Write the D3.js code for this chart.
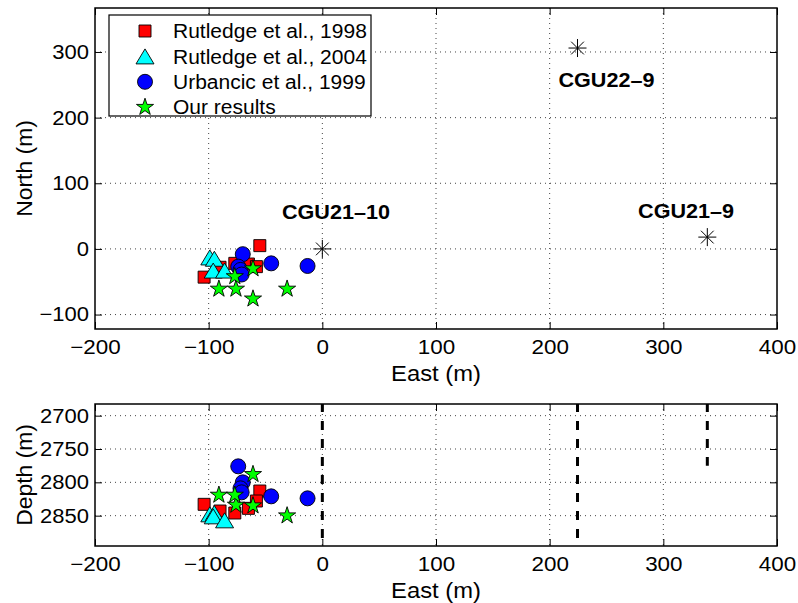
<!DOCTYPE html>
<html>
<head>
<meta charset="utf-8">
<script src="https://cdn.jsdelivr.net/npm/d3@7"></script>
<style>
  html, body { margin: 0; padding: 0; background: #fff; }
  svg { display: block; font-family: "Liberation Sans", Arial, Helvetica, sans-serif; }
</style>
</head>
<body>
<svg id="chart" width="798" height="603"></svg>
<script>
// ---- Event locations (East, North, Depth in metres) ----
const rut1998East  = [-55, -104, -77, -65, -58, -90];
const rut1998North = [5, -43, -22, -23, -27, -28];
const rut1998Depth = [2813, 2833, 2846, 2839, 2828, 2843];

const rut2004East  = [-99, -95, -96, -86];
const rut2004North = [-13, -15, -33, -33];
const rut2004Depth = [2848, 2846, 2851, 2857];

const urbEast  = [-70, -45, -13, -74, -72, -71];
const urbNorth = [-8, -22, -26, -27, -32, -39];
const urbDepth = [2800, 2821, 2824, 2776, 2809, 2815];

const oursEast  = [-91, -76, -61, -31, -61, -77];
const oursNorth = [-61, -61, -76, -61, -30, -42];
const oursDepth = [2819, 2834, 2835, 2850, 2788, 2819];

// ---- Wells ----
const wellNames     = ["CGU21–10", "CGU22–9", "CGU21–9"];
const wellEast      = [0, 224.5, 338.7];
const wellNorth     = [0, 306, 18];
const wellTopDepth  = [2600, 2600, 2600];
const wellBotDepth  = [3000, 3000, 2775];
const wellLabelEast  = [12, 250, 320];
const wellLabelNorth = [57, 257, 58];

// ---- Axes ----
const eastDomain  = [-200, 400];
const northDomain = [-122, 367];
const depthDomain = [2682.5, 2895.5];
const eastTicks  = [-200, -100, 0, 100, 200, 300, 400];
const northTicks = [-100, 0, 100, 200, 300];
const depthTicks = [2700, 2750, 2800, 2850];

const seriesNames = ["Rutledge et al., 1998", "Rutledge et al., 2004", "Urbancic et al., 1999", "Our results"];

const svg = d3.select("#chart");
svg.append("rect").attr("width", 798).attr("height", 603).attr("fill", "#fff");

const mapBox = { l: 95, r: 777, t: 8, b: 329 };
const secBox = { l: 95, r: 777, t: 404, b: 546 };

const xMap = d3.scaleLinear().domain(eastDomain).range([mapBox.l, mapBox.r]);
const yMap = d3.scaleLinear().domain(northDomain).range([mapBox.b, mapBox.t]);
const xSec = d3.scaleLinear().domain(eastDomain).range([secBox.l, secBox.r]);
const ySec = d3.scaleLinear().domain(depthDomain).range([secBox.t, secBox.b]);

const fmt = d3.format("d");
const minusFmt = v => fmt(v).replace("-", "\u2212");

// widen glyphs horizontally (the figure's lettering is a little broad)
function widen(sel, k) {
  sel.each(function () {
    const len = this.getComputedTextLength();
    if (len > 0) {
      this.setAttribute("textLength", (len * k).toFixed(2));
      this.setAttribute("lengthAdjust", "spacingAndGlyphs");
    }
  });
}

// marker path builders
function starPath(R) {
  const r = R * 0.382;
  const pts = [];
  for (let i = 0; i < 10; i++) {
    const a = -Math.PI / 2 + i * Math.PI / 5;
    const rr = i % 2 === 0 ? R : r;
    pts.push([rr * Math.cos(a), rr * Math.sin(a)]);
  }
  return "M" + pts.map(p => p[0].toFixed(2) + "," + p[1].toFixed(2)).join("L") + "Z";
}
function triPath(w, h) {
  return `M0,${-h / 2}L${w / 2},${h / 2}L${-w / 2},${h / 2}Z`;
}
function squarePath(s) {
  return `M${-s / 2},${-s / 2}h${s}v${s}h${-s}Z`;
}
function circlePath(r) {
  return `M${r},0A${r},${r} 0 1,1 ${-r},0A${r},${r} 0 1,1 ${r},0Z`;
}
function asteriskPath(R) {
  const d = R * Math.SQRT1_2;
  return `M0,${-R}V${R}M${-R},0H${R}M${-d},${-d}L${d},${d}M${-d},${d}L${d},${-d}`;
}

const markers = [
  { path: squarePath(12), fill: "#ff0000" },
  { path: triPath(18, 15), fill: "#00ffff" },
  { path: circlePath(7.5), fill: "#0000ff" },
  { path: starPath(9), fill: "#00ff00" }
];

function grid(g, x, y, box, xTicks, yTicks) {
  g.append("g").selectAll("line").data(xTicks.filter(t => x(t) > box.l + 1 && x(t) < box.r - 1)).join("line")
    .attr("x1", d => x(d)).attr("x2", d => x(d)).attr("y1", box.t).attr("y2", box.b)
    .attr("stroke", "#444").attr("stroke-width", 1).attr("stroke-dasharray", "1,4");
  g.append("g").selectAll("line").data(yTicks).join("line")
    .attr("x1", box.l).attr("x2", box.r).attr("y1", d => y(d)).attr("y2", d => y(d))
    .attr("stroke", "#444").attr("stroke-width", 1).attr("stroke-dasharray", "1,4");
}

function axes(g, x, y, box, xTicks, yTicks, xLabel, yLabel) {
  const tick = 7;
  const bottom = g.append("g").attr("transform", `translate(0,${box.b})`)
    .call(d3.axisBottom(x).tickValues(xTicks).tickSize(-tick).tickPadding(11).tickFormat(minusFmt));
  const topAx = g.append("g").attr("transform", `translate(0,${box.t})`)
    .call(d3.axisTop(x).tickValues(xTicks).tickSize(-tick).tickFormat(""));
  const left = g.append("g").attr("transform", `translate(${box.l},0)`)
    .call(d3.axisLeft(y).tickValues(yTicks).tickSize(-tick).tickPadding(6).tickFormat(minusFmt));
  const right = g.append("g").attr("transform", `translate(${box.r},0)`)
    .call(d3.axisRight(y).tickValues(yTicks).tickSize(-tick).tickFormat(""));
  [bottom, topAx, left, right].forEach(a => {
    a.select(".domain").remove();
    a.selectAll(".tick line").attr("stroke", "#000").attr("stroke-width", 1);
    a.selectAll("text").attr("fill", "#000").style("font-size", "20px")
      .style("font-family", "'Liberation Sans', Arial, sans-serif");
  });
  widen(bottom.selectAll("text"), 1.12);
  widen(left.selectAll("text"), 1.1);
  g.append("rect").attr("x", box.l).attr("y", box.t)
    .attr("width", box.r - box.l).attr("height", box.b - box.t)
    .attr("fill", "none").attr("stroke", "#000").attr("stroke-width", 1.5);
  const xl = g.append("text").attr("x", (box.l + box.r) / 2).attr("y", box.b + 52)
    .attr("text-anchor", "middle").style("font-size", "22px").text(xLabel);
  const yl = g.append("text").attr("transform", `translate(32,${(box.t + box.b) / 2}) rotate(-90)`)
    .attr("text-anchor", "middle").style("font-size", "22px").text(yLabel);
  widen(xl, 1.08);
  widen(yl, 1.04);
}

function scatter(g, x, y, xs, ys, m) {
  g.append("g").selectAll("path").data(xs.map((v, i) => [v, ys[i]])).join("path")
    .attr("transform", d => `translate(${x(d[0])},${y(d[1])})`)
    .attr("d", m.path).attr("fill", m.fill).attr("stroke", "#000").attr("stroke-width", 0.9);
}

// ---------- Map view ----------
const gMap = svg.append("g");
grid(gMap, xMap, yMap, mapBox, eastTicks, northTicks);
scatter(gMap, xMap, yMap, rut1998East, rut1998North, markers[0]);
scatter(gMap, xMap, yMap, rut2004East, rut2004North, markers[1]);
scatter(gMap, xMap, yMap, urbEast, urbNorth, markers[2]);
scatter(gMap, xMap, yMap, oursEast, oursNorth, markers[3]);

gMap.append("g").selectAll("path").data(wellEast.map((e, i) => [e, wellNorth[i]])).join("path")
  .attr("transform", d => `translate(${xMap(d[0])},${yMap(d[1])})`)
  .attr("d", asteriskPath(9)).attr("fill", "none").attr("stroke", "#000").attr("stroke-width", 1);

const wellLabels = gMap.append("g").selectAll("text").data(wellNames).join("text")
  .attr("x", (d, i) => xMap(wellLabelEast[i])).attr("y", (d, i) => yMap(wellLabelNorth[i]))
  .attr("dy", "0.36em").attr("text-anchor", "middle")
  .style("font-size", "20px").style("font-weight", "bold").text(d => d);
widen(wellLabels, 1.08);

axes(gMap, xMap, yMap, mapBox, eastTicks, northTicks, "East (m)", "North (m)");

// legend
const lg = gMap.append("g");
lg.append("rect").attr("x", 109).attr("y", 15).attr("width", 262).attr("height", 101)
  .attr("fill", "#fff").attr("stroke", "#000").attr("stroke-width", 1.2);
seriesNames.forEach((name, i) => {
  const cy = 31 + i * 25.4;
  lg.append("path").attr("transform", `translate(145,${cy})`)
    .attr("d", markers[i].path).attr("fill", markers[i].fill).attr("stroke", "#000").attr("stroke-width", 0.9);
  const t = lg.append("text").attr("x", 173).attr("y", cy).attr("dy", "0.36em")
    .style("font-size", "20px").text(name);
  widen(t, 1.05);
});

// ---------- Depth section ----------
const gSec = svg.append("g");
grid(gSec, xSec, ySec, secBox, eastTicks, depthTicks);
svg.append("clipPath").attr("id", "secClip").append("rect")
  .attr("x", secBox.l).attr("y", secBox.t).attr("width", secBox.r - secBox.l).attr("height", secBox.b - secBox.t);
gSec.append("g").attr("clip-path", "url(#secClip)").selectAll("line").data(wellEast).join("line")
  .attr("x1", d => xSec(d)).attr("x2", d => xSec(d))
  .attr("y1", (d, i) => ySec(wellTopDepth[i])).attr("y2", (d, i) => ySec(wellBotDepth[i]))
  .attr("stroke", "#000").attr("stroke-width", 3).attr("stroke-dasharray", "9,9");
scatter(gSec, xSec, ySec, rut1998East, rut1998Depth, markers[0]);
scatter(gSec, xSec, ySec, rut2004East, rut2004Depth, markers[1]);
scatter(gSec, xSec, ySec, urbEast, urbDepth, markers[2]);
scatter(gSec, xSec, ySec, oursEast, oursDepth, markers[3]);
axes(gSec, xSec, ySec, secBox, eastTicks, depthTicks, "East (m)", "Depth (m)");
</script>
</body>
</html>
